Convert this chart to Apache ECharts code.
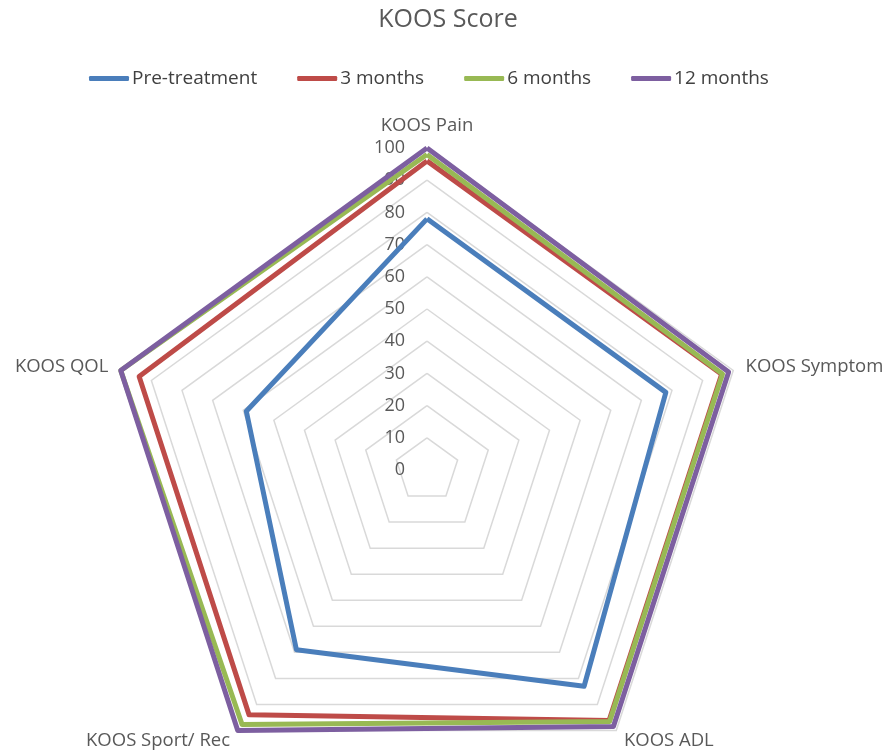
<!DOCTYPE html>
<html>
<head>
<meta charset="utf-8">
<script src="https://cdn.jsdelivr.net/npm/echarts@6/dist/echarts.min.js"></script>
<style>
  html, body { margin: 0; padding: 0; background: #fff; }
  #chart { width: 896px; height: 753px; }
</style>
</head>
<body>
<div id="chart"></div>
<script>
// KOOS subscale names, in the radar's counter-clockwise order starting at the top
const indicators = ['KOOS Pain', 'KOOS QOL', 'KOOS Sport/ Rec', 'KOOS ADL', 'KOOS Symptom'];
const seriesNames = ['Pre-treatment', '3 months', '6 months', '12 months'];

// Scores per time point, in indicator order (Pain, QOL, Sport/Rec, ADL, Symptom)
const preTreatment = [78, 59, 69, 83, 78];
const months3 = [96, 94, 94, 96.2, 96.2];
const months6 = [98, 100, 97.7, 96.5, 96.5];
const months12 = [100, 100, 100, 98.5, 98.5];

// Scale tick labels along the top spoke
const scaleTicks = [0, 10, 20, 30, 40, 50, 60, 70, 80, 90, 100];

const colors = ['#4a7ebb', '#be4b48', '#98b954', '#7d5fa0'];
const FONT = '"Open Sans", "Liberation Sans", sans-serif';
const CENTER = [427, 470];
const RADIUS = 322;

const values = [preTreatment, months3, months6, months12];

const chart = echarts.init(document.getElementById('chart'), null, { renderer: 'canvas' });

chart.setOption({
  backgroundColor: '#ffffff',
  animation: false,
  color: colors,
  title: {
    text: 'KOOS Score',
    left: 'center',
    top: 2,
    textStyle: { fontFamily: FONT, fontSize: 25, fontWeight: 'normal', color: '#595959' }
  },
  legend: {
    data: seriesNames,
    top: 64,
    left: 84,
    itemWidth: 40,
    itemHeight: 5,
    itemGap: 40,
    icon: 'roundRect',
    textStyle: { fontFamily: FONT, fontSize: 19, color: '#404040', padding: [0, 0, 0, -2] }
  },
  radar: {
    center: CENTER,
    radius: RADIUS,
    startAngle: 90,
    shape: 'polygon',
    splitNumber: 10,
    indicator: indicators.map(name => ({ name: name, min: 0, max: 100 })),
    axisName: { fontFamily: FONT, fontSize: 18.5, color: '#595959' },
    nameGap: 13,
    axisLine: { show: false },
    axisTick: { show: false },
    axisLabel: { show: false },
    splitArea: { show: false },
    splitLine: { lineStyle: { color: '#d9d9d9', width: 1.5 } }
  },
  // Polar system used only to print the 0–100 scale on the top spoke
  polar: { center: CENTER, radius: [0, RADIUS] },
  angleAxis: {
    startAngle: 90,
    min: 0, max: 360,
    show: false
  },
  radiusAxis: {
    type: 'value',
    min: 0,
    max: 100,
    interval: 10,
    axisLine: { show: false },
    axisTick: { show: false },
    splitLine: { show: false },
    axisLabel: {
      show: true,
      margin: 22,
      fontFamily: FONT,
      fontSize: 18,
      color: '#595959',
      formatter: function (v) { return scaleTicks.indexOf(v) >= 0 ? String(v) : ''; }
    }
  },
  series: [{
    type: 'radar',
    symbol: 'none',
    data: seriesNames.map((name, i) => ({
      name: name,
      value: values[i],
      lineStyle: { width: 5, color: colors[i] },
      itemStyle: { color: colors[i] }
    }))
  }]
});
</script>
</body>
</html>
